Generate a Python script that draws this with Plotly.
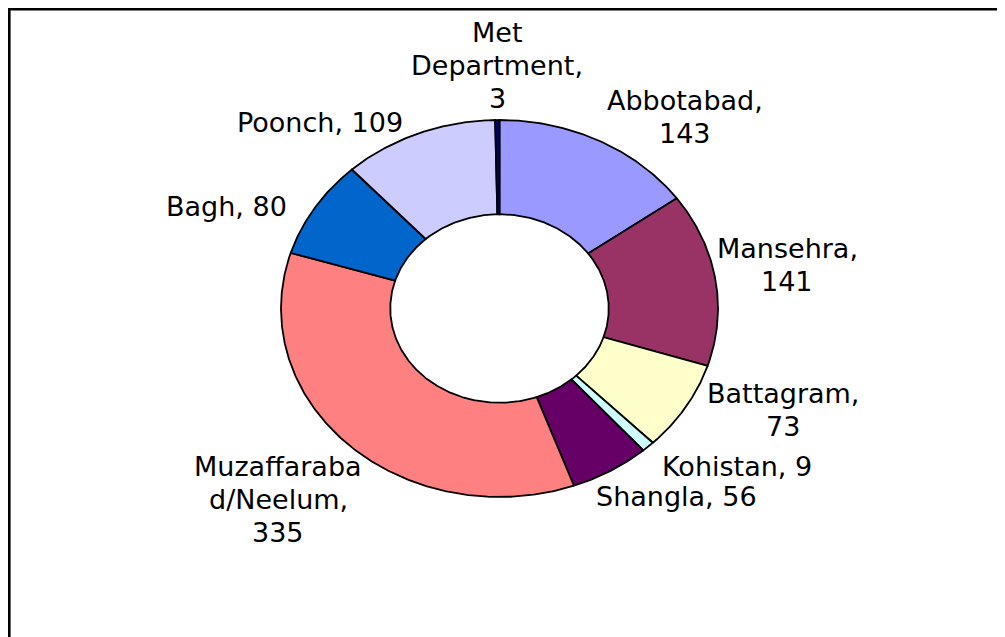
import math
import textwrap
import plotly.graph_objects as go

# ---------------- data ----------------
categories = ["Abbotabad", "Mansehra", "Battagram", "Kohistan", "Shangla",
              "Muzaffarabad/Neelum", "Bagh", "Poonch", "Met Department"]
values = [143, 141, 73, 9, 56, 335, 80, 109, 3]
colors = ["#9999FF", "#993366", "#FFFFCC", "#CCFFFF", "#660066",
          "#FF8080", "#0066CC", "#CCCCFF", "#000080"]

# ---------------- layout / style ----------------
W, H = 1005, 637
OFF = 8                    # page body margin offset (px)
CX, CY = 499.5 - OFF, 308.5 - OFF   # donut centre in figure pixels
RX, RY = 218.5, 188.5      # outer radii in pixels (x, y)
HOLE = 0.5
FONT = dict(family="DejaVu Sans", size=27, color="black")
LINE_STEP = 33             # px between label lines
WRAP = 11                  # characters per label line

# label block anchors in page pixels: (centre x, first-line y)
label_anchor = {
    "Abbotabad": (685, 100),
    "Mansehra": (787, 248),
    "Battagram": (783, 393),
    "Kohistan": (737, 467),
    "Shangla": (676, 496),
    "Muzaffarabad/Neelum": (278, 466),
    "Bagh": (226, 206),
    "Poonch": (320, 122),
    "Met Department": (497, 32),
}

# axis ranges so that one data unit = RX px horizontally and RY px vertically
x_range = [-CX / RX, (W - CX) / RX]
y_range = [-(H - CY) / RY, CY / RY]

fig = go.Figure()
total = sum(values)
start = 0.0
for name, val, col in zip(categories, values, colors):
    span = 360.0 * val / total
    end = start + span
    n = max(4, int(span * 2))
    angs = [start + (end - start) * i / n for i in range(n + 1)]
    xs = [math.sin(math.radians(a)) for a in angs]
    ys = [math.cos(math.radians(a)) for a in angs]
    xs += [HOLE * math.sin(math.radians(a)) for a in reversed(angs)]
    ys += [HOLE * math.cos(math.radians(a)) for a in reversed(angs)]
    xs.append(xs[0])
    ys.append(ys[0])
    fig.add_trace(go.Scatter(
        x=xs, y=ys, mode="lines", fill="toself", fillcolor=col,
        line=dict(color="black", width=1.8), name=name,
        hoveron="fills", text=f"{name}: {val}", hoverinfo="text",
        showlegend=False))
    start = end

annotations = []
for name, val in zip(categories, values):
    lines = textwrap.wrap(f"{name}, {val}", WRAP)
    ax, ay = label_anchor[name]
    for i, ln in enumerate(lines):
        annotations.append(dict(
            x=(ax - OFF) / W, y=1 - (ay - OFF + i * LINE_STEP) / H,
            xref="paper", yref="paper",
            text=ln, showarrow=False, xanchor="center", yanchor="middle",
            font=FONT))

fig.update_layout(
    width=W, height=H, autosize=False,
    margin=dict(l=0, r=0, t=0, b=0),
    paper_bgcolor="white", plot_bgcolor="white",
    xaxis=dict(range=x_range, visible=False, fixedrange=True),
    yaxis=dict(range=y_range, visible=False, fixedrange=True),
    annotations=annotations,
    shapes=[dict(type="rect", xref="paper", yref="paper",
                 x0=1.3 / W, x1=1.05, y0=-0.05, y1=1 - 1.3 / H,
                 line=dict(color="black", width=2.6), layer="above")],
)

fig.write_html("out.html")
